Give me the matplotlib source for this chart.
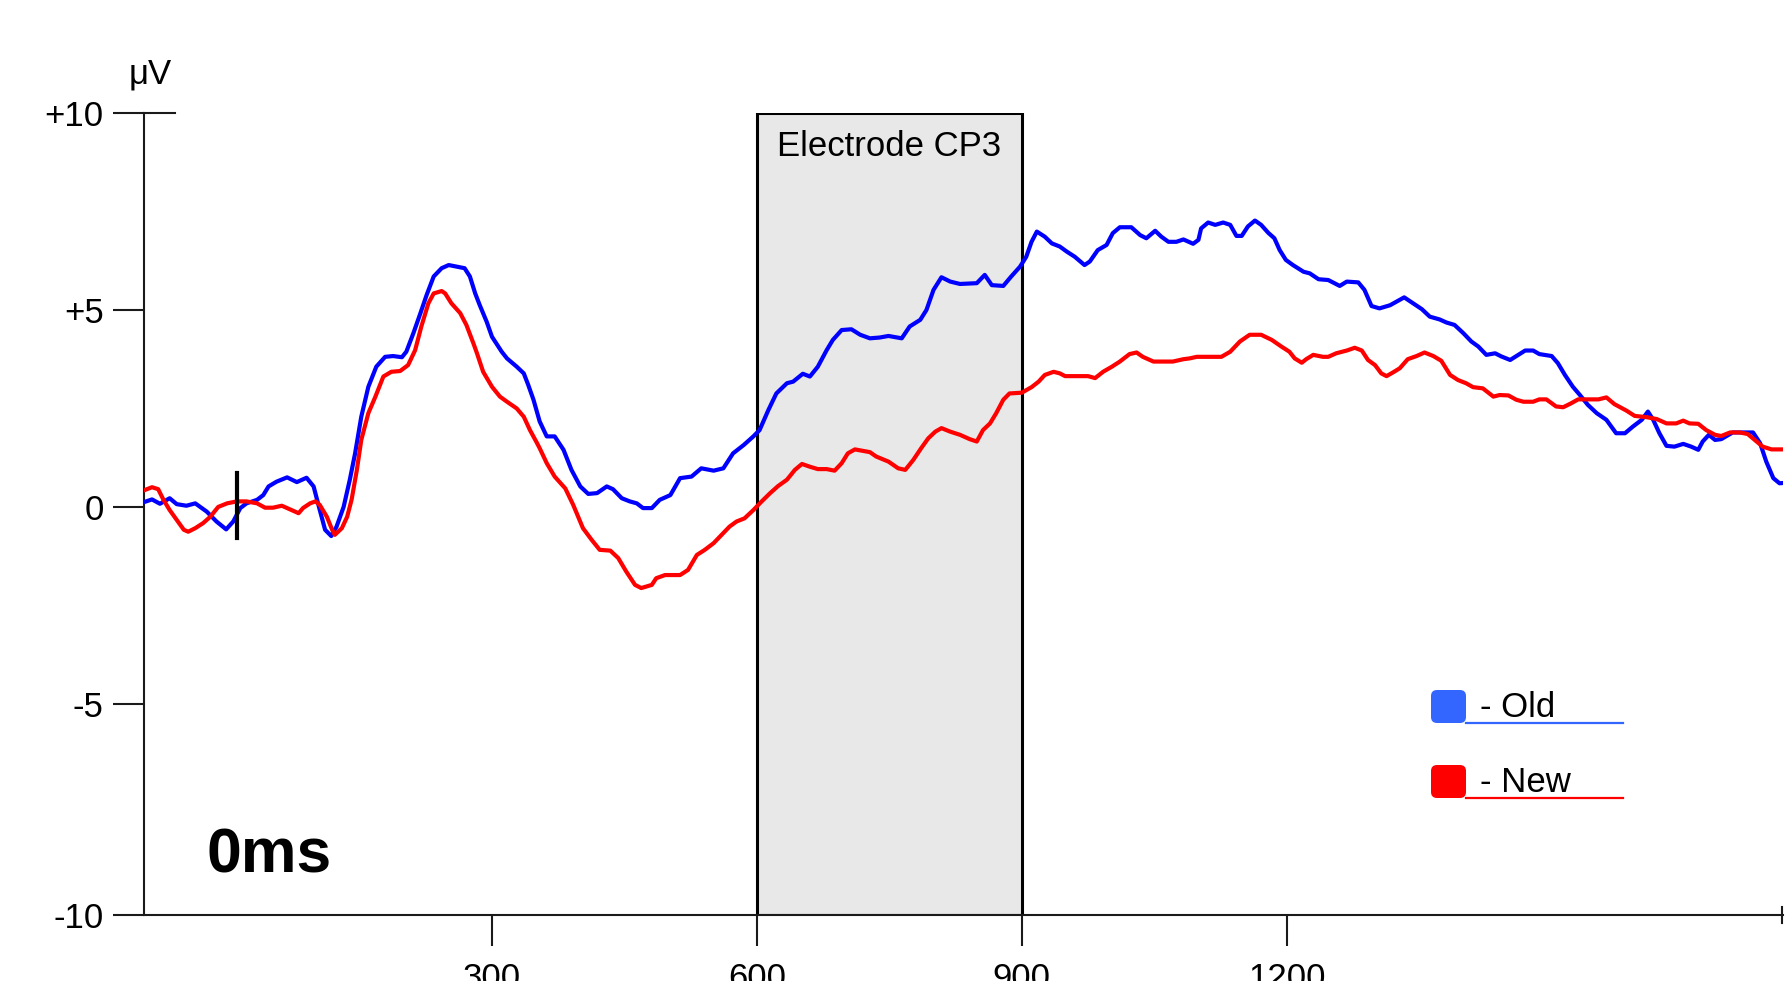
import matplotlib
matplotlib.use("Agg")
import matplotlib.pyplot as plt
from matplotlib.patches import Rectangle, FancyBboxPatch

plt.rcParams['font.family'] = ['Liberation Sans', 'DejaVu Sans']

# --- ERP data (ms, uV) ---
old_ms = [-93, -85, -76, -65, -57, -46, -36, -23, -12, -1, 7, 15, 22, 34, 41, 47, 56, 68, 79, 90,
          98, 105, 111, 118, 124, 132, 139, 145, 152, 160, 169, 179, 188, 198, 203, 211, 219, 226,
          234, 243, 251, 260, 269, 275, 281, 286, 294, 300, 311, 317, 328, 336, 341, 347, 354,
          362, 371, 381, 390, 400, 409, 419, 430, 437, 447, 456, 464, 471, 481, 490, 502, 513,
          526, 537, 551, 562, 573, 585, 596, 603, 613, 622, 634, 641, 652, 660, 669, 679, 686,
          696, 707, 717, 728, 739, 749, 764, 773, 785, 792, 800, 809, 819, 830,
          849, 858, 866, 879, 888, 898, 905, 911, 917, 926, 934, 943, 951, 960, 971, 977, 986,
          996, 1003, 1011, 1024, 1034, 1041, 1051, 1058, 1066, 1075, 1083, 1094, 1100, 1103,
          1111, 1119, 1128, 1136, 1143, 1149, 1156, 1164, 1171, 1179, 1186, 1192, 1199, 1207,
          1219, 1226, 1236, 1247, 1254, 1260, 1268, 1281, 1288, 1296, 1305, 1317,
          1333, 1343, 1353, 1362, 1373, 1381, 1390, 1400, 1409, 1417, 1426, 1436, 1443, 1453,
          1460, 1470, 1479, 1486, 1500, 1507, 1515, 1524, 1532, 1541, 1551, 1562, 1573, 1583,
          1592, 1602, 1609, 1615, 1622, 1630, 1639, 1649, 1658, 1666, 1671, 1678, 1685, 1692,
          1705, 1719, 1728, 1736, 1743, 1751, 1758, 1764]
old_uv = [0.13, 0.19, 0.08, 0.22, 0.07, 0.03, 0.09, -0.12, -0.37, -0.57, -0.37, -0.03, 0.09, 0.18,
          0.30, 0.52, 0.64, 0.75, 0.63, 0.74, 0.52, -0.08, -0.58, -0.74, -0.50, 0.00, 0.69, 1.36,
          2.29, 3.05, 3.56, 3.81, 3.83, 3.80, 3.94, 4.41, 4.92, 5.38, 5.85, 6.06, 6.14, 6.10, 6.06,
          5.85, 5.42, 5.13, 4.70, 4.32, 3.94, 3.77, 3.56, 3.39, 3.10, 2.72, 2.17,
          1.79, 1.79, 1.45, 0.94, 0.52, 0.33, 0.35, 0.52, 0.45, 0.22, 0.14, 0.09, -0.03, -0.03,
          0.18, 0.30, 0.73, 0.77, 0.98, 0.92, 0.98, 1.36, 1.57, 1.79, 1.95, 2.46, 2.88, 3.14, 3.18,
          3.38, 3.31, 3.56, 3.98, 4.24, 4.49, 4.51, 4.37, 4.28, 4.30, 4.34, 4.28, 4.58, 4.75, 5.00,
          5.51, 5.83, 5.72, 5.66,
          5.68, 5.89, 5.63, 5.61, 5.85, 6.10, 6.35, 6.73, 6.99, 6.86, 6.69, 6.61, 6.48, 6.35, 6.14,
          6.23, 6.52, 6.65, 6.95, 7.10, 7.10, 6.90, 6.82, 7.01, 6.86, 6.73, 6.73, 6.79, 6.68, 6.78,
          7.07, 7.22, 7.16, 7.22, 7.16, 6.88, 6.88, 7.12, 7.27, 7.16, 6.96, 6.82, 6.52, 6.27, 6.14,
          5.97, 5.93, 5.78, 5.76, 5.68, 5.61, 5.72, 5.70, 5.51, 5.10, 5.04, 5.12,
          5.32, 5.17, 5.02, 4.83, 4.76, 4.68, 4.62, 4.41, 4.20, 4.07, 3.86, 3.90, 3.82, 3.73, 3.83,
          3.97, 3.97, 3.88, 3.83, 3.65, 3.35, 3.05, 2.84, 2.59, 2.38, 2.21, 1.87, 1.87, 2.04, 2.21,
          2.42, 2.21, 1.87, 1.55, 1.53, 1.60, 1.53, 1.45, 1.66, 1.83, 1.70, 1.72, 1.89, 1.89, 1.89,
          1.62, 1.15, 0.73, 0.60, 0.61]

new_ms = [-93, -85, -78, -72, -65, -57, -49, -44, -36, -27, -19, -10, 0, 11, 22, 34, 43, 52, 62,
          71, 81, 86, 94, 100, 105, 113, 119, 122, 130, 136, 141, 147, 152, 160, 168, 177, 186,
          196, 205, 213, 220, 228, 234, 243, 247, 254, 264, 271, 279, 283, 290, 300, 309, 317,
          328, 336, 343, 351,
          354, 362, 371, 383, 392, 403, 413, 422, 434, 443, 452, 462, 469, 481, 486, 496, 513,
          522, 532, 541, 551, 560, 569, 577, 586, 596, 605, 615, 624, 634, 643, 651, 660, 669,
          679, 688, 696, 703, 711, 728, 735, 749, 760, 768, 777, 786, 794, 802, 809, 819, 830, 841,
          849, 856, 864, 871, 879, 886, 900, 911, 919, 926, 936, 943, 949, 975, 983, 992, 1002,
          1011, 1022, 1030, 1037, 1049, 1071, 1083, 1090, 1098, 1126, 1136, 1147, 1158, 1171,
          1183, 1194, 1203, 1209, 1217, 1222, 1230, 1241, 1247, 1256, 1268, 1277, 1285, 1292,
          1300, 1307, 1313, 1320, 1328,
          1337, 1347, 1356, 1366, 1375, 1385, 1394, 1403, 1411, 1422, 1434, 1441, 1451, 1460,
          1468, 1479, 1486, 1494, 1505, 1513, 1522, 1530, 1539, 1553, 1562, 1571, 1585, 1594,
          1607, 1619, 1630, 1641, 1649, 1656, 1666, 1675, 1685, 1692, 1702, 1713, 1722, 1732,
          1739, 1749, 1764]
new_uv = [0.43, 0.50, 0.45, 0.18, -0.08, -0.33, -0.58, -0.63, -0.54, -0.41, -0.25, 0.00, 0.09,
          0.14, 0.14, 0.09, -0.02, -0.02, 0.03, -0.06, -0.16, -0.03, 0.09, 0.14, 0.05, -0.25,
          -0.58, -0.71, -0.54, -0.25, 0.18, 0.94, 1.70, 2.38, 2.80, 3.31, 3.43, 3.45, 3.60, 3.98,
          4.58, 5.17, 5.42, 5.48, 5.42, 5.17, 4.92, 4.62, 4.15, 3.90, 3.43, 3.05, 2.80, 2.67, 2.50,
          2.29, 1.95, 1.62,
          1.49, 1.11, 0.77, 0.47, 0.05, -0.54, -0.84, -1.09, -1.11, -1.30, -1.64, -1.98, -2.06,
          -1.98, -1.81, -1.73, -1.73, -1.60, -1.22, -1.09, -0.92, -0.71, -0.50, -0.37, -0.29,
          -0.08, 0.13, 0.35, 0.53, 0.69, 0.94, 1.09, 1.02, 0.96, 0.96, 0.92, 1.11, 1.36, 1.46,
          1.39, 1.28, 1.15, 0.98, 0.94, 1.19, 1.49, 1.74, 1.91, 2.00, 1.91, 1.83, 1.72,
          1.66, 1.95, 2.12, 2.38, 2.72, 2.88, 2.90, 3.04, 3.18, 3.35, 3.43, 3.39, 3.32, 3.32, 3.27,
          3.43, 3.56, 3.69, 3.88, 3.92, 3.81, 3.69, 3.69, 3.75, 3.77, 3.81, 3.81, 3.94, 4.20, 4.37,
          4.37, 4.24, 4.07, 3.94, 3.77, 3.66, 3.75, 3.86, 3.81, 3.81, 3.90, 3.97, 4.04, 3.97, 3.73,
          3.60, 3.39, 3.32, 3.41, 3.52,
          3.75, 3.83, 3.92, 3.83, 3.71, 3.35, 3.22, 3.14, 3.04, 3.01, 2.80, 2.84, 2.83, 2.72, 2.67,
          2.67, 2.73, 2.73, 2.55, 2.53, 2.63, 2.73, 2.73, 2.73, 2.78, 2.61, 2.44, 2.31, 2.28, 2.23,
          2.12, 2.12, 2.19, 2.12, 2.11, 1.95, 1.83, 1.80, 1.89, 1.89, 1.85, 1.66, 1.53, 1.46, 1.46]

x_ticks = [300, 600, 900, 1200]
y_ticks = [-5, 0, 5, 10]
y_tick_labels = ['-5', '0', '+5', '+10']
y_bottom_label = '-10'
window_ms = (600, 900)
window_label = 'Electrode CP3'
cursor_ms = 11
cursor_label = '0ms'
legend_labels = ['- Old', '- New']
legend_colors = ['#3366ff', '#ff0000']

x_lim = (-94, 1762)
y_lim = (-10.36, 10)

fig = plt.figure(figsize=(17.85, 9.81), dpi=100)
ax = fig.add_axes([0.0807, 0.0673, 0.9182, 0.8175])
ax.set_xlim(*x_lim)
ax.set_ylim(*y_lim)

axis_color = '#1a1a1a'
for side in ['top', 'right']:
    ax.spines[side].set_visible(False)
for side in ['left', 'bottom']:
    ax.spines[side].set_color(axis_color)
    ax.spines[side].set_linewidth(1.5)

ax.set_xticks(x_ticks, [str(t) for t in x_ticks])
ax.set_yticks([y_lim[0]] + y_ticks, [y_bottom_label] + y_tick_labels)
ax.tick_params(axis='both', direction='out', length=22, width=1.5, color=axis_color,
               labelsize=25, labelcolor='black')
ax.tick_params(axis='x', pad=12)
ax.tick_params(axis='y', pad=7)

# top cap of the y axis (tick crossing into the plot) and end mark of the x axis
ax.plot([0, 0.019], [10, 10], transform=ax.get_yaxis_transform(), color=axis_color,
        lw=1.5, clip_on=False)
ax.plot([0.9995, 0.9995], [-0.01, 0.01], transform=ax.transAxes, color=axis_color,
        lw=1.5, clip_on=False)

# shaded analysis window
ax.add_patch(Rectangle((window_ms[0], y_lim[0]), window_ms[1] - window_ms[0], 10 - y_lim[0],
                       facecolor='#e8e8e8', edgecolor='black', linewidth=2.2, zorder=1))
ax.text(sum(window_ms) / 2, 8.9, window_label, ha='center', va='baseline', fontsize=25, zorder=2)

# ERP curves
ax.plot(old_ms, old_uv, color='#0000ff', lw=3.0, zorder=3)
ax.plot(new_ms, new_uv, color='#ff0000', lw=3.0, zorder=3)

# time cursor
ax.plot([cursor_ms, cursor_ms], [-0.79, 0.86], color='black', lw=3.0, zorder=4)
ax.text(0.0384, 0.0524, cursor_label, transform=ax.transAxes, fontsize=45,
        fontweight='bold', ha='left', va='baseline')

# unit label
fig.text(150 / 1785, 1 - 83 / 981, 'μV', fontsize=25, ha='center', va='baseline')

# custom legend drawn in inches
for i, (lab, col) in enumerate(zip(legend_labels, legend_colors)):
    y0 = 2.56 - i * 0.75
    fig.add_artist(FancyBboxPatch((14.31, y0 + 0.02), 0.35, 0.33,
                                  boxstyle='round,pad=0,rounding_size=0.06',
                                  facecolor=col, edgecolor='none',
                                  transform=fig.dpi_scale_trans))
    fig.add_artist(plt.Line2D([14.66, 16.23], [y0 + 0.02, y0 + 0.02], color=col, lw=1.6,
                              transform=fig.dpi_scale_trans))
    fig.text(14.80, y0 + 0.08, lab, fontsize=25, ha='left', va='baseline',
             transform=fig.dpi_scale_trans)

fig.savefig('out.png', dpi=100)
